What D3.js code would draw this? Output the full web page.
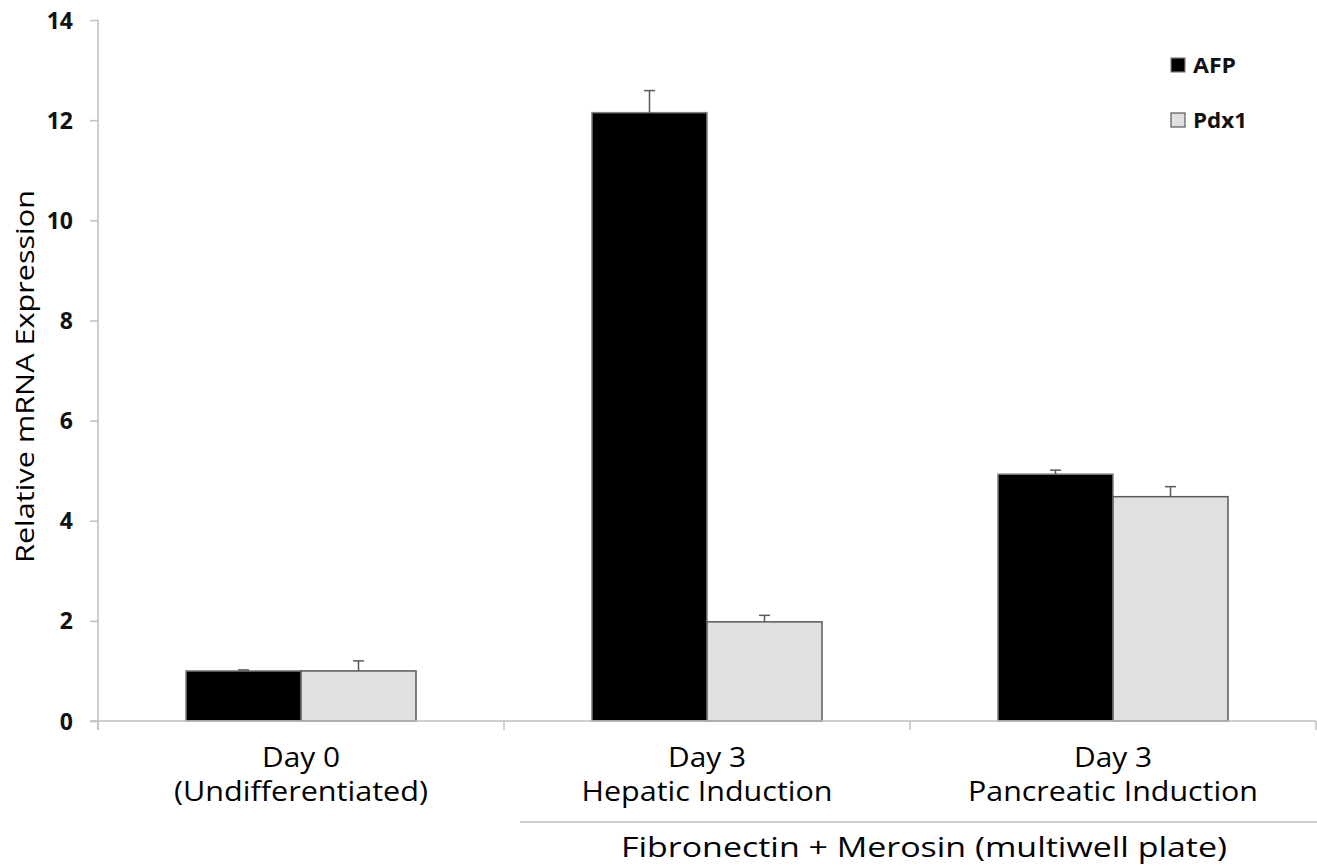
<!DOCTYPE html>
<html><head><meta charset="utf-8">
<script src="https://cdn.jsdelivr.net/npm/d3@7"></script>
<style>body{margin:0;background:#fff}svg{display:block}text{font-family:"Open Sans",sans-serif}</style>
</head><body><svg id="c" width="1317" height="867"></svg>
<script>
const categories = ["Day 0|(Undifferentiated)", "Day 3|Hepatic Induction", "Day 3|Pancreatic Induction"];
const series = ["AFP", "Pdx1"];
const afpValues = [1.0, 12.15, 4.93];
const afpErrors = [0.02, 0.44, 0.08];
const pdx1Values = [1.0, 1.98, 4.48];
const pdx1Errors = [0.2, 0.13, 0.2];
const yTicks = [0, 2, 4, 6, 8, 10, 12, 14];
const groupLabel = "Fibronectin + Merosin (multiwell plate)";
const yTitle = "Relative mRNA Expression";

(function () {
const svg = d3.select("#c");
const mLeft = 98, mRight = 1316, mTop = 20, mBottom = 721;
const y = d3.scaleLinear().domain([0, 14]).range([mBottom, mTop]);
const x = d3.scaleBand().domain(categories).range([mLeft, mRight]).padding(0);
const x1 = d3.scaleBand().domain(series).range([0, x.bandwidth()]).paddingInner(0).paddingOuter(0.765);
const fills = {AFP: "#000000", Pdx1: "#e0e0e0"};
const strokes = {AFP: "#7f7f7f", Pdx1: "#595959"};
const axisColor = "#bfbfbf";

const data = [];
categories.forEach((c, i) => {
  data.push({cat: c, s: "AFP", v: afpValues[i], e: afpErrors[i]});
  data.push({cat: c, s: "Pdx1", v: pdx1Values[i], e: pdx1Errors[i]});
});

// y axis
const yAxis = d3.axisLeft(y).tickValues(yTicks).tickSize(8).tickPadding(17).tickFormat(d3.format("d"));
const gy = svg.append("g").attr("transform", `translate(${mLeft},0)`).call(yAxis);
gy.select(".domain").remove();
gy.selectAll(".tick line").attr("stroke", axisColor).attr("stroke-width", 1.5);
gy.selectAll(".tick text").attr("font-size", 23).attr("font-weight", "bold").attr("fill", "#111").attr("dy", "0.35em");
svg.append("line").attr("x1", mLeft).attr("x2", mLeft).attr("y1", mTop).attr("y2", mBottom + 9)
  .attr("stroke", axisColor).attr("stroke-width", 1.5);

// bars
svg.append("g").selectAll("rect").data(data).join("rect")
  .attr("x", d => x(d.cat) + x1(d.s))
  .attr("y", d => y(d.v))
  .attr("width", x1.bandwidth())
  .attr("height", d => y(0) - y(d.v))
  .attr("fill", d => fills[d.s])
  .attr("stroke", d => strokes[d.s])
  .attr("stroke-width", 1.5);

// error bars
const eg = svg.append("g").attr("stroke", "#595959").attr("stroke-width", 1.5);
data.forEach(d => {
  const cx = x(d.cat) + x1(d.s) + x1.bandwidth() / 2;
  eg.append("line").attr("x1", cx).attr("x2", cx).attr("y1", y(d.v)).attr("y2", y(d.v + d.e));
  eg.append("line").attr("x1", cx - 5.5).attr("x2", cx + 5.5).attr("y1", y(d.v + d.e)).attr("y2", y(d.v + d.e));
});

// x axis
svg.append("line").attr("x1", mLeft - 8).attr("x2", mRight).attr("y1", mBottom).attr("y2", mBottom)
  .attr("stroke", axisColor).attr("stroke-width", 1.5);
const bounds = categories.map(c => x(c)).concat([mRight]);
bounds.forEach(b => svg.append("line").attr("x1", b).attr("x2", b).attr("y1", mBottom).attr("y2", mBottom + 9)
  .attr("stroke", axisColor).attr("stroke-width", 1.5));

const lineWidths = [[78, 254], [78, 251], [78, 290]];
categories.forEach((c, i) => {
  const lines = c.split("|");
  const cx = x(c) + x.bandwidth() / 2;
  lines.forEach((t, j) => {
    svg.append("text").attr("x", cx).attr("y", 767 + j * 34).attr("text-anchor", "middle")
      .attr("font-size", 27).attr("fill", "#000")
      .attr("textLength", lineWidths[i][j]).attr("lengthAdjust", "spacingAndGlyphs").text(t);
  });
});

// group line and label
const gx0 = x(categories[1]) + 16;
svg.append("line").attr("x1", gx0).attr("x2", mRight + 1).attr("y1", 822).attr("y2", 822)
  .attr("stroke", axisColor).attr("stroke-width", 1.5);
svg.append("text").attr("x", (x(categories[1]) + mRight) / 2 + 14).attr("y", 857).attr("text-anchor", "middle")
  .attr("font-size", 27).attr("fill", "#000").attr("textLength", 606).attr("lengthAdjust", "spacingAndGlyphs")
  .text(groupLabel);

// y title
svg.append("text").attr("transform", `translate(34,${(190 + 563) / 2}) rotate(-90)`).attr("text-anchor", "middle")
  .attr("font-size", 25).attr("fill", "#000").attr("textLength", 373).attr("lengthAdjust", "spacingAndGlyphs")
  .text(yTitle);

// legend
const lg = svg.append("g");
const legendWidths = [43, 54];
series.forEach((s, i) => {
  const ly = 58 + i * 55;
  lg.append("rect").attr("x", 1171).attr("y", ly).attr("width", 14).attr("height", 14)
    .attr("fill", fills[s]).attr("stroke", strokes[s]).attr("stroke-width", 1.2);
  lg.append("text").attr("x", 1193).attr("y", ly + 15).attr("font-size", 22).attr("font-weight", "bold")
    .attr("fill", "#111").attr("textLength", legendWidths[i]).attr("lengthAdjust", "spacingAndGlyphs").text(s);
});
})();
</script></body></html>
